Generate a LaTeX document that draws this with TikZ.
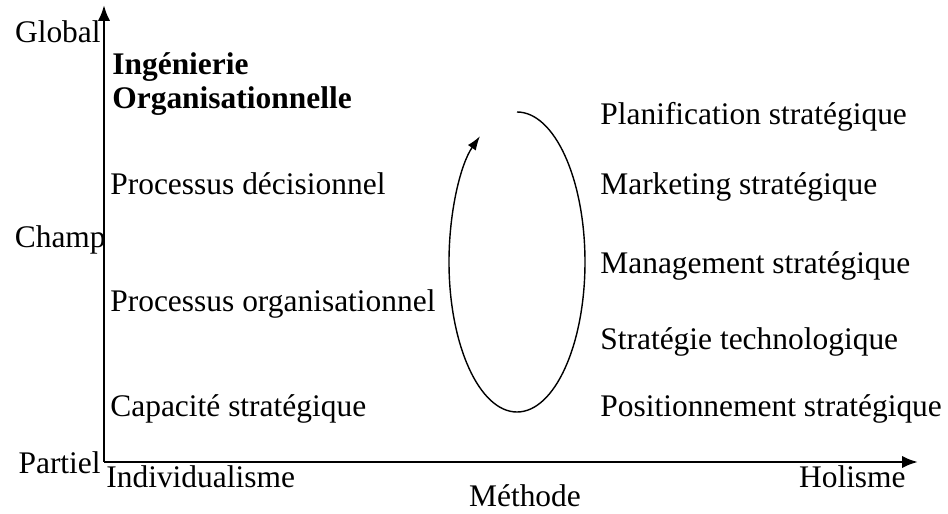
\documentclass[tikz,border=0pt]{standalone}
\usepackage{fontspec}
\setmainfont{Liberation Serif}
\usetikzlibrary{arrows.meta, positioning}

\begin{document}
\begin{tikzpicture}[x=0.02cm, y=0.02cm,
  lbl/.style={inner sep=0pt, font=\fontsize{17.9}{21}\selectfont},
  lblbf/.style={lbl, font=\fontsize{17.9}{21}\selectfont\bfseries},
  axis/.style={line width=1.5pt, -{Latex[length=9pt, width=7pt]}},
  cycle/.style={line width=0.8pt, -{Latex[length=8pt, width=5.5pt]}}]
  \useasboundingbox (0,0) rectangle (948,514);

  % axes
  \coordinate (O) at (104,52);
  \coordinate (ytip) at (104,509);
  \coordinate (xtip) at (918,52);
  \draw[axis] (O) -- (ytip);
  \draw[axis] (O) -- (xtip);

  % axis labels
  \node[lbl, anchor=base east] (glob) at (101,471) {Global};
  \node[lbl, anchor=base east] (champ) at (106,266) {Champ};
  \node[lbl, anchor=base east] (part) at (101,40) {Partiel};
  \node[lbl, anchor=base west] (indiv) at (106,26) {Individualisme};
  \node[lbl, anchor=base east] (hol) at (906,26) {Holisme};
  \node[lbl, anchor=base] (meth) at (525,7) {Méthode};

  % left column
  \node[lblbf, anchor=base west] (ing) at (112,439) {Ingénierie};
  \node[lblbf, anchor=base west] (orga) at (112,405) {Organisationnelle};
  \node[lbl, anchor=base west] (pdec) at (110,319) {Processus décisionnel};
  \node[lbl, anchor=base west] (porg) at (110,202) {Processus organisationnel};
  \node[lbl, anchor=base west] (capa) at (110,97) {Capacité stratégique};

  % right column
  \node[lbl, anchor=base west] (plan) at (600,389) {Planification stratégique};
  \node[lbl, anchor=base west] (mark) at (600,319) {Marketing stratégique};
  \node[lbl, anchor=base west] (mgmt) at (600,240) {Management stratégique};
  \node[lbl, anchor=base west] (tech) at (600,164) {Stratégie technologique};
  \node[lbl, anchor=base west] (posi) at (600,97) {Positionnement stratégique};

  % cycle
  \coordinate (ctop) at (517,402);
  \draw[cycle] (ctop) arc[start angle=90, end angle=-237, x radius=68, y radius=150];
\end{tikzpicture}
\end{document}
